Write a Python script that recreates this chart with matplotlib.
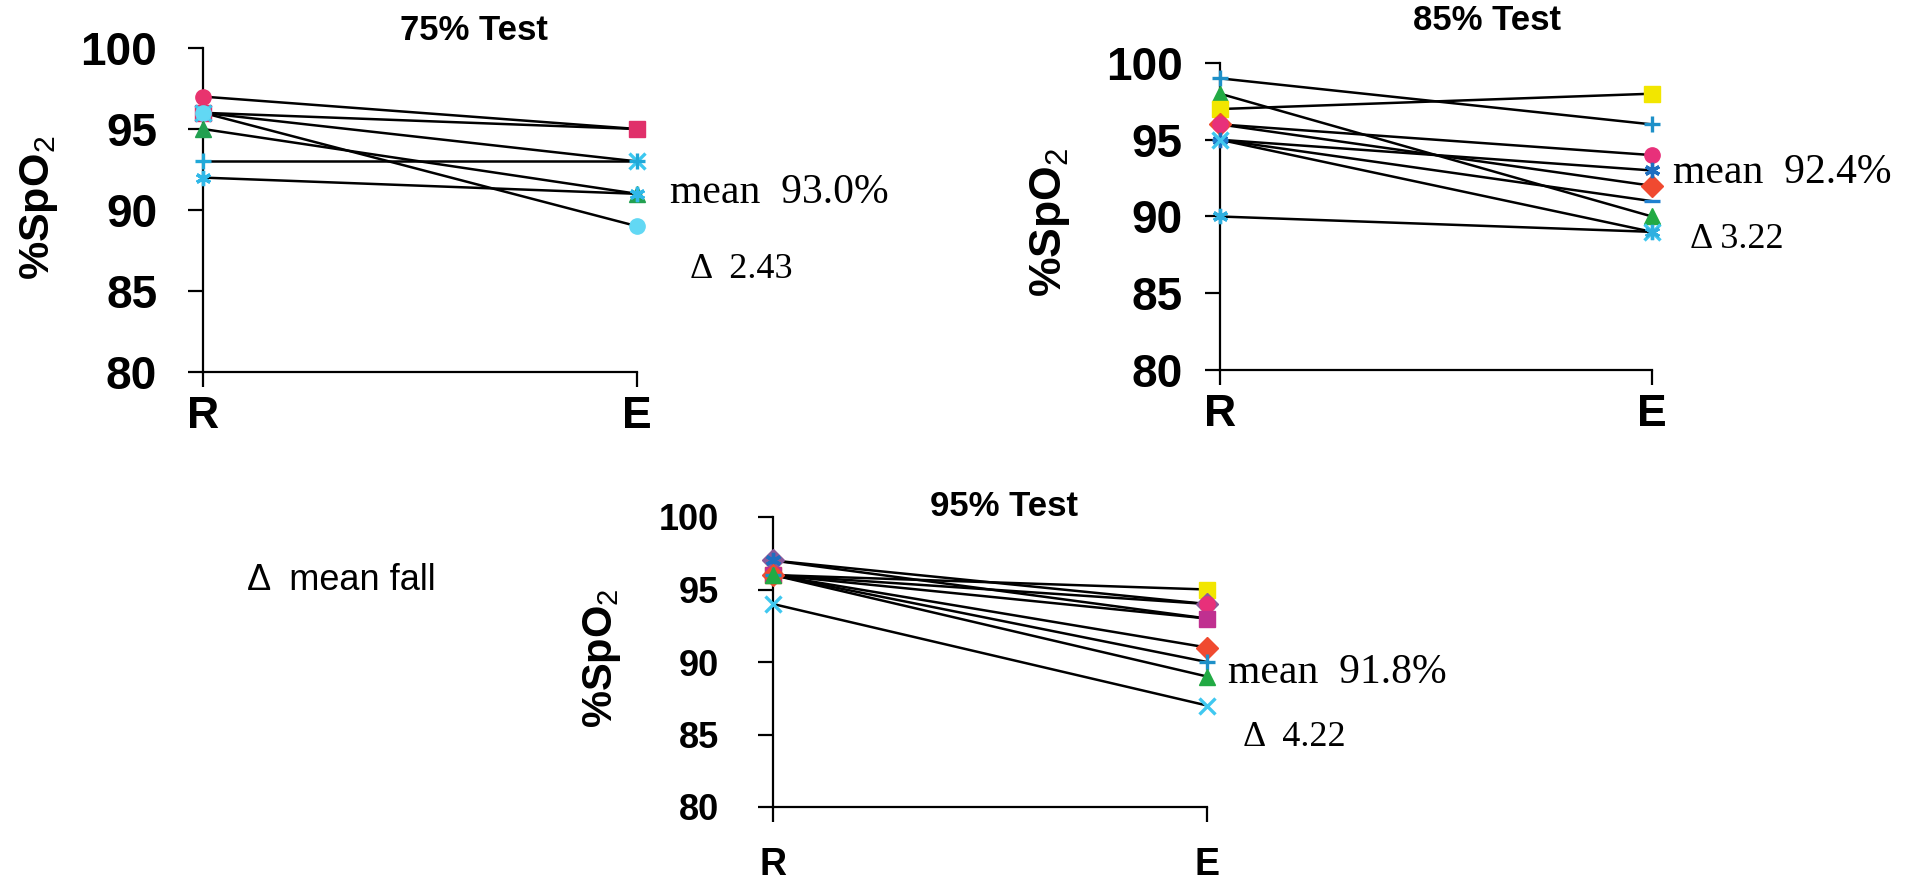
import numpy as np
import matplotlib
matplotlib.use("Agg")
import matplotlib.pyplot as plt

# SpO2 at rest (R) and exercise (E) for each subject, three tests
cats = ["R", "E"]

r75 = [97, 96, 96, 96, 95, 92, 93]
e75 = [95, 95, 93, 89, 91, 91, 93]

r85 = [99, 98, 97, 96, 96, 95, 95, 95, 90]
e85 = [96, 90, 98, 92, 94, 93, 91, 89, 89]

r95 = [96, 97, 96, 97, 96, 96, 96, 96, 94]
e95 = [95, 94, 94, 93, 93, 91, 90, 89, 87]

titles = ["75% Test", "85% Test", "95% Test"]
means = ["mean  93.0%", "mean  92.4%", "mean  91.8%"]
deltas = ["\u0394  2.43", "\u0394 3.22", "\u0394  4.22"]
yticks = [80, 85, 90, 95, 100]

# marker styles (Excel-ish)
AST = (6, 2, 0)
sty75 = [("o", "#e8336e"), ("s", "#e0306a"), ("x", "#3cc8f0"), ("o", "#62d8f4"),
         ("^", "#22a050"), (AST, "#30b8e8"), ("+", "#20a8d8")]
sty85 = [("+", "#1e90c8"), ("^", "#22aa44"), ("s", "#f2e600"), ("D", "#f04a30"),
         ("o", "#e8307a"), (AST, "#1f6fc0"), ("_", "#2080d0"), ("x", "#40c8f0"),
         (AST, "#30b0e0")]
sty95 = [("s", "#f2e600"), ("D", "#8a5a9a"), ("o", "#e8307a"), (AST, "#1f6fc0"),
         ("s", "#c03090"), ("D", "#f04a30"), ("+", "#1e90c8"), ("^", "#22aa44"),
         ("x", "#40c8f0")]

plt.rcParams["mathtext.fontset"] = "custom"
plt.rcParams["mathtext.rm"] = "Liberation Sans"
plt.rcParams["mathtext.bf"] = "Liberation Sans:bold"

W, H = 1919, 891
fig = plt.figure(figsize=(W / 100, H / 100), dpi=100)


def px(x0, y0, x1, y1):
    return [x0 / W, 1 - y1 / H, (x1 - x0) / W, (y1 - y0) / H]


def panel(rect, rv, ev, sty, tsize, csize, ypad, xpad):
    ax = fig.add_axes(rect)
    for r, e, (m, c) in zip(rv, ev, sty):
        ax.plot([0, 1], [r, e], color="black", lw=1.8, zorder=2, clip_on=False)
        thin = m in ("+", "x", "_") or isinstance(m, tuple)
        ax.plot([0, 1], [r, e], ls="none", marker=m, ms=11, color=c,
                mec=c, mew=2.4 if thin else 1, zorder=3, clip_on=False)
    ax.set_xlim(0, 1)
    ax.set_ylim(80, 100)
    ax.set_xticks([0, 1])
    ax.set_xticklabels(cats)
    ax.set_yticks(yticks)
    for s in ["top", "right"]:
        ax.spines[s].set_visible(False)
    for s in ["left", "bottom"]:
        ax.spines[s].set_linewidth(1.6)
    ax.tick_params(axis="y", direction="out", length=11, width=1.6, pad=ypad,
                   labelsize=tsize)
    ax.tick_params(axis="x", direction="out", length=11, width=1.6, pad=xpad,
                   labelsize=csize)
    for lab in ax.get_xticklabels() + ax.get_yticklabels():
        lab.set_fontfamily("Liberation Sans")
        lab.set_fontweight("bold")
    return ax


ax1 = panel(px(203, 48, 637, 372), r75, e75, sty75, 33, 32, 22, 6)
ax2 = panel(px(1220, 63, 1652, 370), r85, e85, sty85, 33, 32, 16, 6)
ax3 = panel(px(773, 517, 1207, 807), r95, e95, sty95, 26, 27, 28, 18)

sans = dict(family="Liberation Sans", fontweight="bold")
serif = dict(family="Liberation Serif")

# titles
fig.text(474 / W, 1 - 30 / H, titles[0], ha="center", va="center", fontsize=25, **sans)
fig.text(1487 / W, 1 - 20 / H, titles[1], ha="center", va="center", fontsize=25, **sans)
fig.text(1004 / W, 1 - 506 / H, titles[2], ha="center", va="center", fontsize=25, **sans)

# y labels
ylab = "%SpO$_{\\mathrm{2}}$"
fig.text(39 / W, 1 - 208 / H, ylab, rotation=90, ha="center", va="center", fontsize=31, **sans)
fig.text(1050 / W, 1 - 222 / H, ylab, rotation=90, ha="center", va="center", fontsize=32, **sans)
fig.text(602 / W, 1 - 658 / H, ylab, rotation=90, ha="center", va="center", fontsize=30, **sans)

# mean / delta annotations
fig.text(670 / W, 1 - 193 / H, means[0], ha="left", va="center", fontsize=30, **serif)
fig.text(690 / W, 1 - 270 / H, deltas[0], ha="left", va="center", fontsize=26, **serif)
fig.text(1673 / W, 1 - 173 / H, means[1], ha="left", va="center", fontsize=30, **serif)
fig.text(1690 / W, 1 - 240 / H, deltas[1], ha="left", va="center", fontsize=26, **serif)
fig.text(1228 / W, 1 - 673 / H, means[2], ha="left", va="center", fontsize=30, **serif)
fig.text(1243 / W, 1 - 738 / H, deltas[2], ha="left", va="center", fontsize=26, **serif)

fig.text(247 / W, 1 - 580 / H, "\u0394  mean fall", ha="left", va="center",
         fontsize=26, family="Liberation Sans")

fig.savefig("out.png", dpi=100)
